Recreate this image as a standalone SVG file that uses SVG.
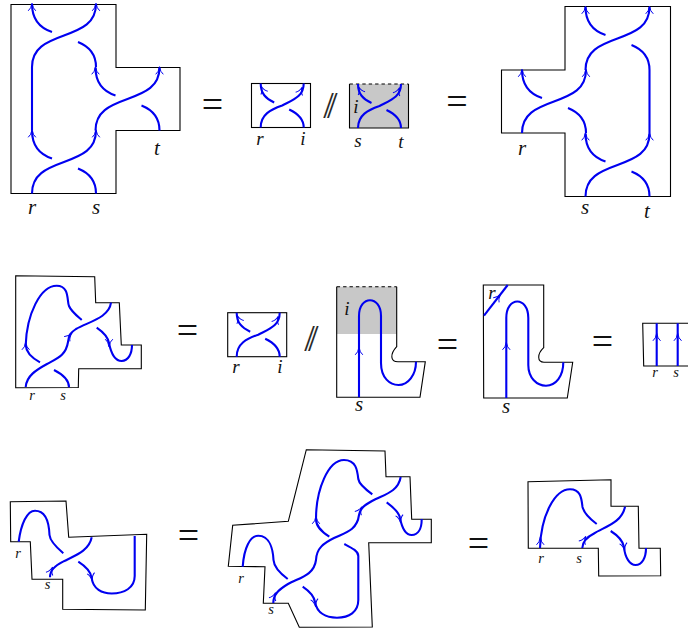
<svg xmlns="http://www.w3.org/2000/svg" xmlns:xlink="http://www.w3.org/1999/xlink" width="688" height="632" viewBox="0 0 688 632">
<style>
.o{fill:none;stroke:#000;stroke-width:1.1;stroke-linejoin:miter}
.b{fill:none;stroke:#0000f0;stroke-width:2.1;stroke-linecap:butt}
.a{fill:none;stroke:#0000f0;stroke-width:1}
.g{fill:#c8c8c8;stroke:none}
.d{fill:none;stroke:#000;stroke-width:1.1;stroke-dasharray:3.4 3}
text{font-family:"Liberation Serif",serif;fill:#111}
.l{font-size:21px;font-style:italic;text-anchor:middle}
.m{font-size:19px;font-style:italic;text-anchor:middle}
.s{font-size:14.500px;font-style:italic;text-anchor:middle}
.e{font-size:38px;text-anchor:middle}
.p{font-size:38px;text-anchor:middle;letter-spacing:-6.800px;opacity:.9}
</style>
<defs>
<path id="ah" class="a" d="M-3.800,3.800 Q-.8,1.600 0,-3.800 Q.8,1.600 3.800,3.800"/>
<g id="x">
<path class="b" d="M0,63 C0,44 14,38 32,31.500 C50,25 64,19 64,0"/>
<path class="b" d="M20,28 C8,24 0,15 0,0"/>
<path class="b" d="M46,38 C56,42 64,50 64,63"/>
<use xlink:href="#ah" href="#ah" transform="translate(0,3)"/>
<use xlink:href="#ah" href="#ah" transform="translate(64,3)"/>
</g>
<g id="xs">
<path class="b" d="M0,44 C0,31 10,26 21.500,22 C33,16 43,13 43,0"/>
<path class="b" d="M13.500,19 C5,15 0,10 0,0"/>
<path class="b" d="M28.500,26 C37,30 43,35 43,44"/>
<use xlink:href="#ah" href="#ah" transform="translate(2,6) rotate(-25)"/>
<use xlink:href="#ah" href="#ah" transform="translate(40,7) rotate(25)"/>
</g>
</defs>

<g id="eq1">
<g id="n1"><path class="o" d="M11,4.500H116V67.500H180V130.500H116V193.500H11Z"/></g>
<g id="c1">
<use href="#x" transform="translate(32,130.500)"/>
<use href="#x" transform="translate(95.500,67.500)"/>
<use href="#x" transform="translate(32,4)"/>
<path class="b" d="M32,67V130.500"/>
</g>
<text class="l" x="32" y="214">r</text><text class="l" x="96" y="214">s</text><text class="l" x="157" y="155">t</text>
<text class="e" x="212.500" y="117">=</text>

<g id="n2"><rect class="o" x="251.500" y="83.500" width="59" height="44"/><use href="#xs" transform="translate(260.700,83.500)"/></g>
<text class="m" x="260" y="145">r</text><text class="m" x="303" y="145">i</text>
<text class="p" x="327" y="118">//</text>
<g id="n3"><rect class="g" x="349.500" y="84" width="59" height="44"/>
<path class="d" d="M349.500,84H408.500"/><path class="o" d="M349.500,84V128H408.500V84"/>
<use href="#xs" transform="translate(358,84)"/></g>
<text class="m" x="356" y="113">i</text><text class="m" x="358" y="147">s</text><text class="m" x="401" y="148">t</text>
<text class="e" x="457" y="114">=</text>

<g id="n4"><path class="o" d="M565,6.500H670.500V196.500H565V133H501.500V70H565Z"/></g>
<g id="c4">
<use href="#x" transform="translate(585.500,133.500)"/>
<use href="#x" transform="translate(522,70)"/>
<use href="#x" transform="translate(585.500,7)"/>
<path class="b" d="M649.500,70V133.500"/>
</g>
<text class="l" x="522" y="155">r</text><text class="l" x="585" y="214">s</text><text class="l" x="647" y="218">t</text>
</g>

<g id="eq2">
<g id="n5"><path class="o" d="M15.700,275.700L94.700,276.700L95.700,302.700H119.300L121.300,345H141.300V368.700H78.700L78.300,387.500L15.700,387.700Z"/></g>
<g id="c5">
<path class="b" d="M25.700,387 C26.500,376 36,370 47,364 C58,358 66,355 68,342 C69,335 70,333 76,329 C88,322 109,318 111,302.700"/>
<path class="b" d="M40,362.300 C32,358 26,352 25.700,345 C26.700,315 40,285.700 56.700,285.700 C70,285.700 66.700,301.700 69,306 C71,311 76,315 81.700,320"/>
<path class="b" d="M54,370 C62,374 69,379 69,387.300"/>
<path class="b" d="M96.700,327.700 C103,332 108,338 109,343 C111,353 115,361 121.700,361 C128,361 132,354 132,345"/>
<use href="#ah" transform="translate(25.700,346)"/>
<use href="#ah" transform="translate(69.500,336) rotate(40)"/>
<use href="#ah" transform="translate(109,343) rotate(180)"/>
</g>
<text class="s" x="32" y="400">r</text><text class="s" x="63" y="400">s</text>
<text class="e" x="187.500" y="343">=</text>

<g id="n6"><rect class="o" x="227.700" y="312.700" width="59" height="44"/><use href="#xs" transform="translate(236.700,312.700)"/></g>
<text class="m" x="236" y="373">r</text><text class="m" x="280" y="373">i</text>
<text class="p" x="308" y="351">//</text>

<g id="n7"><rect class="g" x="336.700" y="286.700" width="60" height="47.300"/>
<path class="d" d="M336.700,286.700H396.700"/>
<path class="o" d="M336.700,286.700V397.300H420L425.300,361.700H398 C390,361.700 390,354 396.700,346.700V286.700"/>
<path class="b" d="M359,397.300V316 C359,295 381,295 381,316V363 C381,378 390,385 398.500,385 C408,385 416,375 416,361.700"/>
<use href="#ah" transform="translate(359,351)"/></g>
<text class="m" x="347" y="315">i</text><text class="l" x="359" y="411">s</text>
<text class="e" x="447.500" y="357">=</text>

<g id="n8"><path class="o" d="M483.300,285H543.700V347.700 C537,354 537,362.300 544,362.300H572.700L567.300,398H483.700Z"/>
<path class="b" d="M484,315.700L507.700,285"/>
<use href="#ah" transform="translate(498.500,297) rotate(38)"/>
<path class="b" d="M506.300,398V318 C506.300,296 528.300,296 528.300,318V365 C528.300,378 537,385.700 546,385.700 C556,385.700 563.300,376 563.300,362.300"/>
<use href="#ah" transform="translate(506.300,346)"/></g>
<text class="m" x="492" y="299">r</text><text class="l" x="506" y="413">s</text>
<text class="e" x="602.500" y="354">=</text>

<g id="n9"><path class="o" d="M688,323.300H642.700L643.700,366H688"/>
<path class="b" d="M656.700,323.300V366M677.700,323.300V366"/>
<use href="#ah" transform="translate(656.700,337)"/>
<use href="#ah" transform="translate(677.700,337)"/></g>
<text class="s" x="655" y="377">r</text><text class="s" x="676" y="377">s</text>
</g>

<g id="eq3">
<g id="n10"><path class="o" d="M10.300,501.700L66,501L68.700,537.300L146.700,534.300L145.300,610L62.700,609.300V579.300H32L30.300,541.700H10.700Z"/></g>
<g id="c10">
<path class="b" d="M18.700,541.700 C21,524 27,510.700 35,510.700 C46,510.700 49,522 49.500,535 C50,541 56,547 63.300,553.300"/>
<path class="b" d="M50,577.300 C50,570 55,566 63,561.700 C72,556.500 89,552 91.700,537.300"/>
<path class="b" d="M78.300,561.700 C85,566 91,572 91.700,578 C93,589 102,593.500 111.700,593.500 C124,593.500 134.700,588 134.700,576V536"/>
<use href="#ah" transform="translate(51,570.500) rotate(25)"/>
<use href="#ah" transform="translate(91.500,577) rotate(170)"/>
</g>
<text class="s" x="18" y="558">r</text><text class="s" x="47.500" y="589">s</text>
<text class="e" x="188.500" y="548">=</text>

<g id="n11"><path class="o" d="M306.300,449.700L385,451L386,476.700H410L411.700,519.300H431.300V542.700H368.700L372.300,627L299.300,627.300L288.300,603.300H263.300L265,566.700L228.300,566.300L232.700,525.300L288.300,521.300Z"/></g>
<g id="c11">
<path class="b" d="M329.300,536.700 C322,532 316,527 316,519 C316,490 328,460 344,460 C356,460 357.300,470 358.300,479 C359,484 365,489 372.300,494.300"/>
<path class="b" d="M273.300,603 C273.300,595 278,590 288,584 C298,578 314,576 316,560 C316.500,548 324,543 334,538 C344,533 357,531 359,515 C360,508 365,505 372,501 C382,495 398,493 400.700,477"/>
<path class="b" d="M302.700,586.700 C309,591 314,596 315,602 C317,613 326,617.700 337,617.700 C349,617.700 358.300,612 358.300,600V556 C358.300,551 352,548 344.300,544"/>
<path class="b" d="M242.700,566.700 C244,548 250,535.700 258.300,535.700 C270,535.700 273,550 273.500,560 C274,568 281,574 287.700,579"/>
<path class="b" d="M386.700,502.300 C393,507 399,512 400,518 C402,528 406,535 411.700,535 C418,535 421.700,529 421.700,519"/>
<use href="#ah" transform="translate(316,520)"/>
<use href="#ah" transform="translate(360,510) rotate(30)"/>
<use href="#ah" transform="translate(400,519) rotate(170)"/>
<use href="#ah" transform="translate(274,596) rotate(25)"/>
<use href="#ah" transform="translate(315,603) rotate(170)"/>
</g>
<text class="s" x="241" y="583">r</text><text class="s" x="271" y="614">s</text>
<text class="e" x="478.500" y="556">=</text>

<g id="n12"><path class="o" d="M528,481.700L611,479.700V506.300H638.300L639,548.300H660.300L660.700,575.700L598.700,576L598.300,548.300H528.300Z"/></g>
<g id="c12">
<path class="b" d="M540,548 C541,515 555,489.300 570,489.300 C581,489.300 581.500,499 582.500,507 C584,513 590,519 596.700,524"/>
<path class="b" d="M582.300,548 C582.500,541 587,537 594,533.500 C604,527 622,523 625,506.700"/>
<path class="b" d="M610.700,531 C617,535 623,541 624,547 C625,558 630,565 635.500,565 C642,565 646,558 646,548"/>
<use href="#ah" transform="translate(540.300,541)"/>
<use href="#ah" transform="translate(584,539.500) rotate(30)"/>
<use href="#ah" transform="translate(624,547) rotate(170)"/>
</g>
<text class="s" x="541" y="563">r</text><text class="s" x="579" y="563">s</text>
</g>
</svg>
